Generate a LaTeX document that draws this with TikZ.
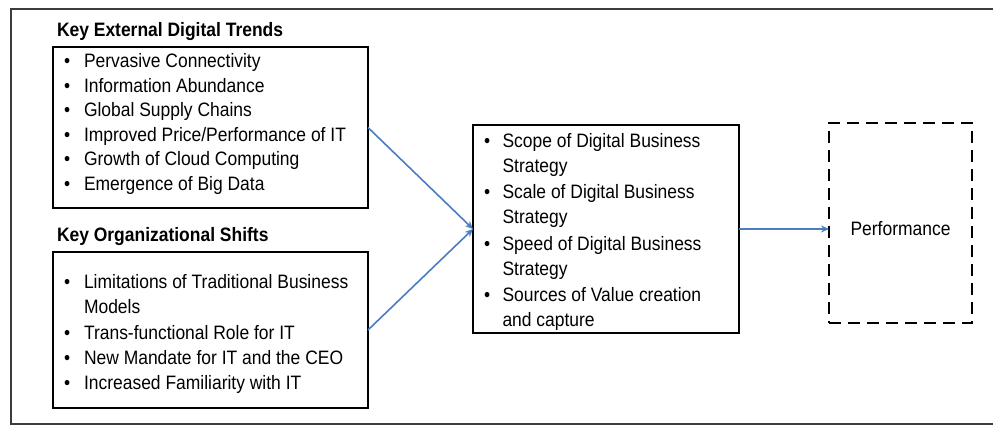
\documentclass[tikz,border=0pt]{standalone}
\usepackage{fontspec}
\setmainfont[FakeStretch=0.9]{Liberation Sans}
\usetikzlibrary{arrows.meta}
\definecolor{arrowblue}{RGB}{74,126,190}
\definecolor{framegray}{RGB}{60,60,60}
\begin{document}
\begin{tikzpicture}[x=1pt,y=-1pt,
  every node/.style={font=\fontsize{19.4}{23}\selectfont, inner sep=0pt, outer sep=0pt},
  boxframe/.style={draw=black, line width=2.6pt, rectangle, anchor=north west},
  perfframe/.style={draw=black, line width=2.6pt, rectangle, anchor=north west, dash pattern=on 12pt off 7pt},
  itemtext/.style={anchor=base west},
  bullettext/.style={anchor=base west},
  headtext/.style={anchor=base west, font=\fontsize{19.4}{23}\selectfont\bfseries},
  flow/.style={draw=arrowblue, line width=1.6pt, -{Stealth[length=8pt,width=7pt]}}
]
\useasboundingbox (0,0) rectangle (993,425);
% outer frame
\draw[line width=2pt, draw=framegray] (993,9.3) -- (11,9.3) -- (11,423.5) -- (993,423.5);

% boxes
\node[boxframe, minimum width=315pt, minimum height=161pt] (ext) at (53,47) {};
\node[boxframe, minimum width=315pt, minimum height=156pt] (org) at (53,252) {};
\node[boxframe, minimum width=266pt, minimum height=208pt] (mid) at (473,125) {};
\node[perfframe, minimum width=143pt, minimum height=200pt] (perf) at (829,123) {};

% headings
\node[headtext] (h1) at (57,36.7) {Key External Digital Trends};
\node[headtext] (h2) at (57,241.7) {Key Organizational Shifts};

% external trends
\foreach \t [count=\i] in {Pervasive Connectivity, Information Abundance, Global Supply Chains, Improved Price/Performance of IT, Growth of Cloud Computing, Emergence of Big Data}{
  \pgfmathsetmacro{\yy}{67.5+(\i-1)*24.6}
  \node[bullettext] (eb\i) at (64,\yy) {•};
  \node[itemtext] (e\i) at (84,\yy) {\t};
}

% organizational shifts
\node[bullettext] (ob1) at (64,288.5) {•};
\node[itemtext] (o1) at (84,288.5) {Limitations of Traditional Business};
\node[itemtext] (o1b) at (84,313.8) {Models};
\node[bullettext] (ob2) at (64,339.1) {•};
\node[itemtext] (o2) at (84,339.1) {Trans-functional Role for IT};
\node[bullettext] (ob3) at (64,364.4) {•};
\node[itemtext] (o3) at (84,364.4) {New Mandate for IT and the CEO};
\node[bullettext] (ob4) at (64,389.7) {•};
\node[itemtext] (o4) at (84,389.7) {Increased Familiarity with IT};

% middle box
\node[bullettext] (mb1) at (484,147) {•};
\node[itemtext] (m1) at (502.5,147) {Scope of Digital Business};
\node[itemtext] (m1b) at (502.5,172) {Strategy};
\node[bullettext] (mb2) at (484,198.5) {•};
\node[itemtext] (m2) at (502.5,198.5) {Scale of Digital Business};
\node[itemtext] (m2b) at (502.5,223.5) {Strategy};
\node[bullettext] (mb3) at (484,250) {•};
\node[itemtext] (m3) at (502.5,250) {Speed of Digital Business};
\node[itemtext] (m3b) at (502.5,275) {Strategy};
\node[bullettext] (mb4) at (484,301.5) {•};
\node[itemtext] (m4) at (502.5,301.5) {Sources of Value creation};
\node[itemtext] (m4b) at (502.5,326.5) {and capture};

% performance label
\node[anchor=base] (plabel) at (900.5,235) {Performance};

% connectors
\draw[flow] (ext.east) -- (mid.west);
\draw[flow] (org.east) -- (mid.west);
\draw[flow] (mid.east) -- (perf.west |- mid.east);
\end{tikzpicture}
\end{document}
